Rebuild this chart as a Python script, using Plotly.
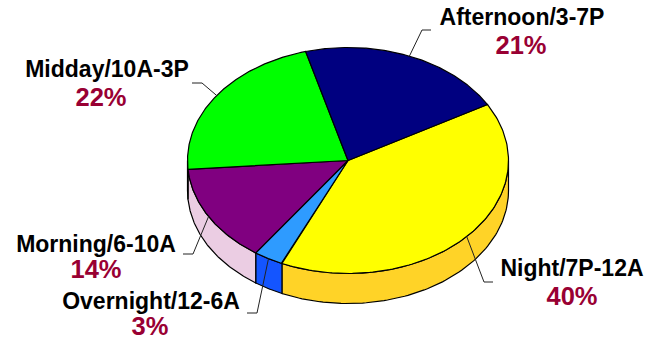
import numpy as np
import plotly.graph_objects as go

# Daypart share of the total, clockwise from the navy/yellow boundary
labels = ["Night/7P-12A", "Overnight/12-6A", "Morning/6-10A", "Midday/10A-3P", "Afternoon/3-7P"]
shares = [40, 3, 14, 22, 21]
top_colors = ["#FFFF00", "#2E9BFF", "#800080", "#00FF00", "#000080"]
wall_colors = ["#FFD327", "#1455FF", "#EBCDE3", "#00C000", "#000060"]

# Label placement (name centre x, percent centre x, name y, percent y)
label_x = [572, 151, 96, 107, 522]
label_x_pct = [572, 150, 96, 101, 521]
label_y = [270.5, 303.5, 246.5, 71.5, 19.5]
pct_y = [298.5, 329, 271.5, 99.5, 47.5]

# Elbow of each leader line
elbow_x = [484, 257, 193, 202, 422]
elbow_end_x = [493, 247, 183, 192, 431]
elbow_y = [282, 313, 254, 83, 30]

CX, CY, RX, RY, DEPTH = 348, 160.5, 160.5, 113, 30
START_DEG = -29.7


def rim(deg):
    rad = np.radians(deg)
    return CX + RX * np.cos(rad), CY + RY * np.sin(rad)


fig = go.Figure()
edges = START_DEG + np.cumsum([0] + [s * 3.6 for s in shares])

# Side walls only show on the near half of the ellipse
for a, b, color in zip(edges[:-1], edges[1:], wall_colors):
    lo, hi = max(a, 0), min(b, 180)
    if lo >= hi:
        continue
    t = np.linspace(lo, hi, 90)
    x, y = rim(t)
    fig.add_trace(go.Scatter(
        x=np.r_[x, x[::-1], x[0]], y=np.r_[y, y[::-1] + DEPTH, y[0]],
        mode="lines", fill="toself", fillcolor=color,
        line=dict(color="#000000", width=1.2), hoverinfo="skip",
    ))

# Top faces
for a, b, color in zip(edges[:-1], edges[1:], top_colors):
    t = np.linspace(a, b, 140)
    x, y = rim(t)
    fig.add_trace(go.Scatter(
        x=np.r_[CX, x, CX], y=np.r_[CY, y, CY],
        mode="lines", fill="toself", fillcolor=color,
        line=dict(color="#000000", width=1.2), hoverinfo="skip",
    ))

# Leader lines
mids = (edges[:-1] + edges[1:]) / 2
for i, mid in enumerate(mids):
    x0, y0 = rim(mid)
    fig.add_trace(go.Scatter(
        x=[x0, elbow_x[i], elbow_end_x[i]], y=[y0, elbow_y[i], elbow_y[i]],
        mode="lines", line=dict(color="#222222", width=1), hoverinfo="skip",
    ))

# Names and percentages
fig.add_trace(go.Scatter(
    x=label_x, y=label_y, mode="text", text=[f"<b>{t}</b>" for t in labels],
    textposition="middle center", hoverinfo="skip",
    textfont=dict(family="Liberation Sans", size=23, color="#000000"),
))
fig.add_trace(go.Scatter(
    x=label_x_pct, y=pct_y, mode="text", text=[f"<b>{s}%</b>" for s in shares],
    textposition="middle center", hoverinfo="skip",
    textfont=dict(family="Liberation Sans", size=25.5, color="#990033"),
))

fig.update_layout(
    width=652, height=339, margin=dict(l=0, r=0, t=0, b=0),
    paper_bgcolor="#FFFFFF", plot_bgcolor="#FFFFFF", showlegend=False,
    xaxis=dict(range=[0, 652], visible=False),
    yaxis=dict(range=[339, 0], visible=False),
)
fig.write_html("out.html", config=dict(displayModeBar=False))
